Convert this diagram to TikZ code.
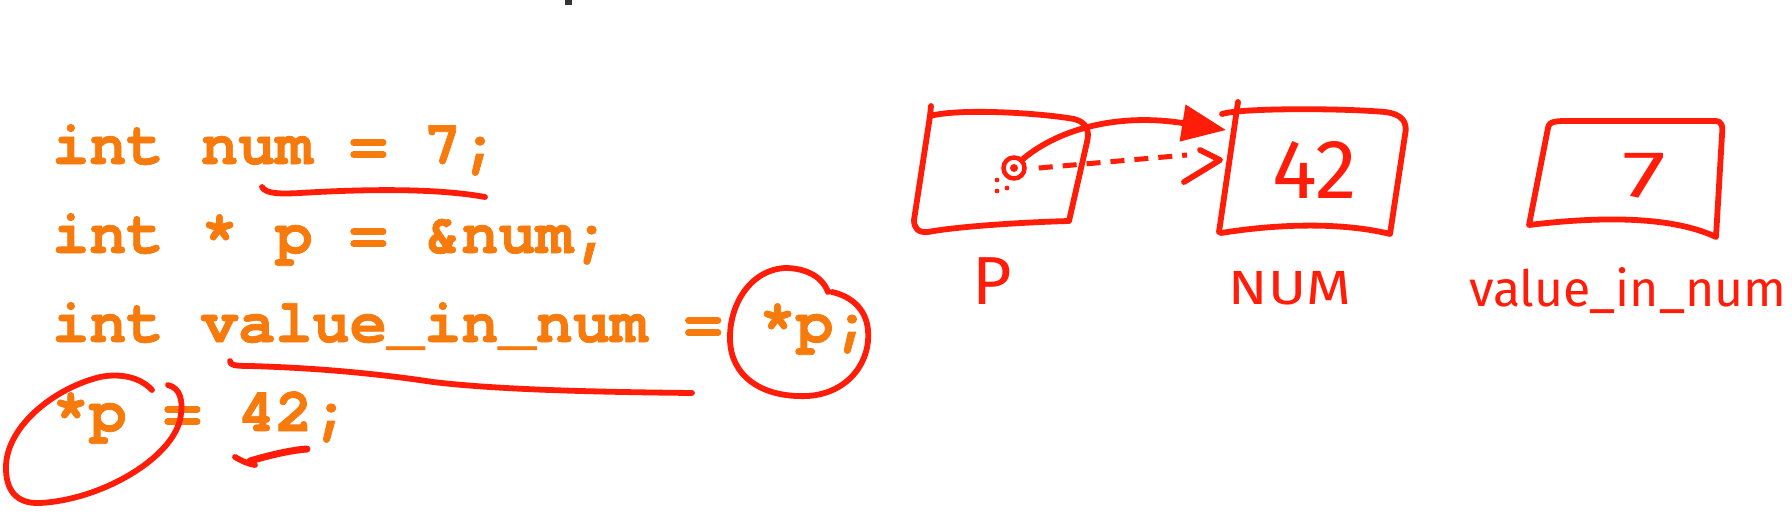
\documentclass[tikz,border=0pt]{standalone}
\usepackage{fontspec}
\usetikzlibrary{arrows.meta}
\newfontfamily\codefont{TeX Gyre Cursor}[BoldFeatures={FakeBold=1.2}]
\newfontfamily\handfont{Fira Sans}
\definecolor{codeorange}{RGB}{247,122,12}
\definecolor{inkred}{RGB}{255,28,8}
\begin{document}
\begin{tikzpicture}[x=1pt,y=-1pt,
  code/.style={font=\codefont\bfseries\fontsize{62}{62}\selectfont, text=codeorange, anchor=base west, inner sep=0pt},
  ink/.style={draw=inkred, line width=5.8pt, line cap=round, line join=round},
  hand/.style={font=\handfont, text=inkred, inner sep=0pt},
  boxarea/.style={inner sep=0pt, minimum width=#1}
]
\useasboundingbox (0,0) rectangle (1792,525);
\fill[white] (0,0) rectangle (1792,525);
% tiny cut-off mark at the top
\fill[black!80] (565,0) rectangle (572,5);

% code lines
\node[code] (l1) at (52,164) {int num = 7;};
\node[code] (l2) at (52,253) {int * p = \&num;};
\node[code] (l3) at (52,342) {int value\_in\_num = *p;};
\node[code] (l4) at (52,431) {*p = 42;};

% annotations on the code
\draw[ink] (262,187) .. controls (266,194) and (280,194) .. (300,193)
  .. controls (350,190) and (430,187) .. (485,197);
\draw[ink] (230,361) .. controls (230,365) and (234,366) .. (250,366)
  .. controls (320,368) and (380,374) .. (433,382)
  .. controls (500,390) and (600,392) .. (692,393);
\draw[ink] (828,292) .. controls (822,276) and (805,268) .. (785,268)
  .. controls (750,270) and (729,305) .. (730,340)
  .. controls (731,375) and (760,398) .. (808,396)
  .. controls (850,393) and (871,360) .. (868,330)
  .. controls (866,308) and (850,296) .. (832,292);
\draw[ink] (152,390) .. controls (140,377) and (120,373) .. (100,377)
  .. controls (55,388) and (8,425) .. (6,465)
  .. controls (5,492) and (18,504) .. (40,503)
  .. controls (100,500) and (170,460) .. (180,420)
  .. controls (184,400) and (180,388) .. (168,385);
\draw[ink] (235,457) .. controls (242,461) and (248,464) .. (255,465);
\draw[ink, line width=7pt] (250,461) .. controls (270,455) and (292,450) .. (307,449);

% memory boxes (hand drawn outlines)
\node[boxarea=150pt, minimum height=110pt] (pbox) at (1000,170) {};
\node[boxarea=170pt, minimum height=120pt] (numbox) at (1310,172) {};
\node[boxarea=180pt, minimum height=110pt] (valbox) at (1625,178) {};

\draw[ink] (931,106) -- (930,116) .. controls (960,108) and (1040,113) .. (1074,119)
  .. controls (1086,122) and (1090,130) .. (1087,142) -- (1069,221)
  .. controls (1030,222) and (960,226) .. (928,232)
  .. controls (918,233) and (914,228) .. (914,220) -- (930,116);
\draw[ink] (1238,102) -- (1219,232);
\draw[ink] (1222,114) .. controls (1240,108) and (1340,108) .. (1385,112)
  .. controls (1402,114) and (1408,122) .. (1405,135) -- (1390,234)
  .. controls (1350,224) and (1290,222) .. (1221,233);
\draw[ink] (1548,128) .. controls (1549,121) and (1556,121) .. (1570,121) -- (1715,121)
  .. controls (1722,121) and (1723,126) .. (1722,135) -- (1716,237)
  .. controls (1680,220) and (1620,214) .. (1529,225) -- (1548,128);

% values and labels
\node[hand, font=\handfont\fontsize{84}{84}\selectfont] (v42) at (1315,170) {42};
\node[hand, font=\handfont\fontsize{66}{66}\selectfont] (v7) at (1644,176) {\scalebox{1.5}[1]{7}};
\node[hand, font=\handfont\fontsize{68}{68}\selectfont] (lp) at (992,281) {P};
\node[hand, font=\handfont\fontsize{48}{48}\selectfont] (lnum) at (1290,288) {\scalebox{1.2}[1]{NUM}};
\node[hand, font=\handfont\fontsize{50}{50}\selectfont, anchor=base west] (lval) at (1469,306) {value\_in\_num};

% pointer dot and arrows
\node[circle, draw=inkred, line width=4.5pt, minimum size=21pt, inner sep=0pt] (dot) at (1014,168) {};
\fill[inkred] (dot.center) circle (4pt);
\fill[inkred] (997,180) circle (2.4pt) (997,191) circle (2.4pt) (1007,188) circle (2.4pt);
\coordinate (tipA) at (1226,130);
\coordinate (tipB) at (1220,160);
\draw[ink, -{Triangle[length=44pt,width=36pt]}] (dot.north east) .. controls (1060,128) and (1120,113) .. (tipA);
\draw[ink, line width=5pt, line cap=butt, dash pattern=on 14pt off 10pt] (dot.east) ++(12,0) -- (1187,155);
\draw[ink] (1200,150) -- (tipB) -- (1184,182);
\end{tikzpicture}
\end{document}
